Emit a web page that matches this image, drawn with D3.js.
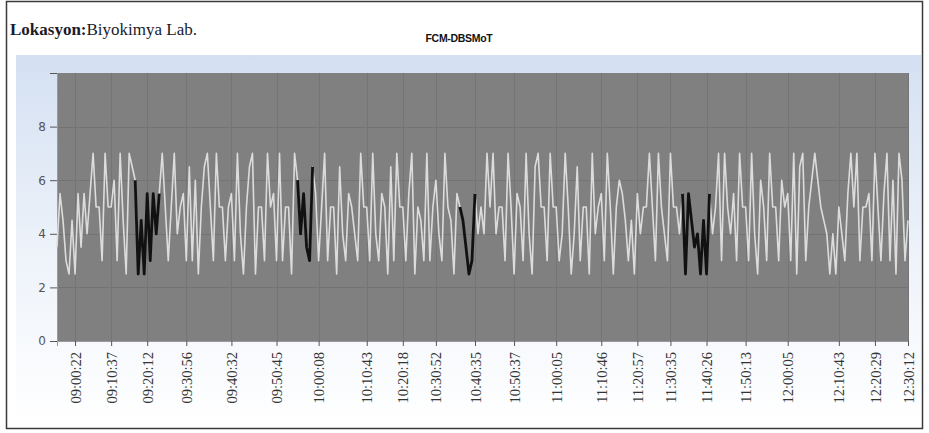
<!DOCTYPE html>
<html>
<head>
<meta charset="utf-8">
<script src="https://cdn.jsdelivr.net/npm/d3@7"></script>
<style>
  html, body { margin: 0; padding: 0; background: #fff; }
  svg { display: block; }
</style>
</head>
<body>
<svg id="chart" width="929" height="433"></svg>
<script>
// ---- data ----
const values = [
  3.5,5.5,4.5,3,2.5,4.5,2.5,5.5,3.5,5.5, 4,5.5,7,5,5,3,7,5,5,6,
  3,7,4.5,2.5,7,6.5,6,2.5,4.5,2.5, 5.5,3,5.5,4,5.5,7,5,3,5,7,
  4,5,5.5,3,6.5,3,6,2.5,5,6.5, 7,5,3,7,5,5,3,5,5.5,3,
  7,4,2.5,5,6.5,7,2.5,5,5,3, 7,5,5.5,3,7,3,5,5,2.5,7,
  6,4,5.5,3.5,3,6.5,5.5,3,5,7, 3,5,5,2.5,6.5,4,3,5.5,5,4,
  3,7,5,5,3,7,4,3,5.5,5, 2.5,6.5,3,7,5,5,3,5.5,7,2.5,
  5,4.5,3,7,3,5,6,4,3,7, 5,4.5,2.5,5.5,5,4.5,3.5,2.5,3,5.5,
  4,5,4,7,5,7,4,5,5,3, 7,5,2.5,5.5,5,3,7,4,2.5,6.5,
  7,5,5,3,7,5,5,3,4,7, 5,2.5,4,6.5,3,5,5,2.5,7,4,
  5,5.5,3,7,5,2.5,5,6,5.5,4.5, 3,4.5,2.5,5.5,4,5,5,7,5,3,
  7,5,4,3,7,5,5,4,5.5,2.5, 5.5,4.5,3.5,4,2.5,4.5,2.5,5.5,4,5,
  7,3,7,5,4,5.5,3,7,5,5, 3,7,4,2.5,6,5,3,7,5,5,
  3,6,5,5.5,3,7,2.5,6.5,7,3, 5,6,7,6,5,4.5,4,2.5,4,2.5,
  5,4,3,5.5,7,5,7,3,5,5, 5.5,3,7,5,3,5.5,7,3,6,2.5,
  7,6,3,4.5
];
// index ranges (inclusive) drawn in black
const anomalyStart = [26, 80, 134, 208];
const anomalyEnd   = [34, 85, 139, 217];
// x-axis labels and the sample index they sit on
const tickIndex  = [6, 18, 30, 43, 58, 73, 87, 103, 115, 126, 139, 152, 166, 181, 193, 204, 216, 229, 243, 260, 272, 283];
const tickLabels = ["09:00:22","09:10:37","09:20:12","09:30:56","09:40:32","09:50:45","10:00:08","10:10:43","10:20:18","10:30:52","10:40:35",
                    "10:50:37","11:00:05","11:10:46","11:20:57","11:30:35","11:40:26","11:50:13","12:00:05","12:10:43","12:20:29","12:30:12"];
const yTicks = [0, 2, 4, 6, 8, 10];
const yLabels = ["0", "2", "4", "6", "8", ""];

// ---- drawing ----
const svg = d3.select("#chart");
const plot = { left: 57, right: 908, top: 73, bottom: 341 };

const defs = svg.append("defs");
const grad = defs.append("linearGradient").attr("id", "bg").attr("x1", 0).attr("y1", 0).attr("x2", 0).attr("y2", 1);
grad.append("stop").attr("offset", "0%").attr("stop-color", "#d4e0f2");
grad.append("stop").attr("offset", "55%").attr("stop-color", "#eef3fa");
grad.append("stop").attr("offset", "100%").attr("stop-color", "#ffffff");

// outer frame
svg.append("rect").attr("x", 6.5).attr("y", 1.5).attr("width", 916).attr("height", 427)
  .attr("fill", "#fff").attr("stroke", "#3a3a3a").attr("stroke-width", 1.5);

// chart area background
svg.append("rect").attr("x", 16).attr("y", 55).attr("width", 905).attr("height", 368)
  .attr("fill", "url(#bg)");

// titles
const t = svg.append("text").attr("x", 10).attr("y", 35)
  .attr("font-family", "'Liberation Serif', 'DejaVu Serif', serif").attr("font-size", 17).attr("fill", "#1a1a2a");
t.append("tspan").attr("font-weight", "bold").text("Lokasyon:");
t.append("tspan").text("Biyokimya Lab.");

svg.append("text").attr("x", 459).attr("y", 42).attr("text-anchor", "middle")
  .attr("font-family", "'Liberation Sans', Arial, sans-serif").attr("font-weight", "bold")
  .attr("font-size", 10.5).attr("fill", "#111").attr("letter-spacing", -0.3).text("FCM-DBSMoT");

const x = d3.scaleLinear().domain([0, values.length - 1]).range([plot.left, plot.right]);
const y = d3.scaleLinear().domain([0, 10]).range([plot.bottom, plot.top]);

// plot background
svg.append("rect").attr("x", plot.left).attr("y", plot.top)
  .attr("width", plot.right - plot.left).attr("height", plot.bottom - plot.top)
  .attr("fill", "#808080");

// grid lines
svg.append("g").selectAll("line").data(yTicks.filter(d => d > 0 && d < 10)).join("line")
  .attr("x1", plot.left).attr("x2", plot.right)
  .attr("y1", d => Math.round(y(d)) + 0.5).attr("y2", d => Math.round(y(d)) + 0.5)
  .attr("stroke", "#737373").attr("stroke-width", 1);
svg.append("g").selectAll("line").data(tickIndex).join("line")
  .attr("x1", d => Math.round(x(d)) + 0.5).attr("x2", d => Math.round(x(d)) + 0.5)
  .attr("y1", plot.top).attr("y2", plot.bottom)
  .attr("stroke", "#757575").attr("stroke-width", 1);

// y axis
const yAxis = d3.axisLeft(y).tickValues(yTicks).tickFormat((d, i) => yLabels[i]).tickSize(7).tickPadding(4);
const gy = svg.append("g").attr("transform", `translate(${plot.left},0)`).call(yAxis);
gy.select(".domain").attr("stroke", "#9a9a9a");
gy.selectAll(".tick line").attr("stroke", "#555");
gy.selectAll(".tick text").attr("font-family", "'DejaVu Sans', sans-serif").attr("font-size", 12).attr("fill", "#555");

// x axis
const xAxis = d3.axisBottom(x).tickValues(tickIndex).tickFormat((d, i) => tickLabels[i]).tickSize(5).tickPadding(3);
const gx = svg.append("g").attr("transform", `translate(0,${plot.bottom})`).call(xAxis);
gx.select(".domain").attr("stroke", "#9a9a9a");
gx.selectAll(".tick line").attr("stroke", "#555");
gx.selectAll(".tick text")
  .attr("font-family", "'Liberation Serif', 'DejaVu Serif', serif").attr("font-size", 14.5).attr("fill", "#333")
  .attr("transform", "rotate(-90)").attr("text-anchor", "end")
  .attr("x", -11).attr("y", 0).attr("dy", "0.35em");

// series line
const line = d3.line().x((d, i) => x(i)).y(d => y(d));
svg.append("path").datum(values).attr("d", line)
  .attr("fill", "none").attr("stroke", "#dcdcdc").attr("stroke-width", 1.6).attr("stroke-linejoin", "round");

// anomaly segments in black
const lineIdx = d3.line().x(i => x(i)).y(i => y(values[i]));
anomalyStart.forEach((s, k) => {
  const idx = d3.range(s, anomalyEnd[k] + 1);
  svg.append("path").datum(idx).attr("d", lineIdx)
    .attr("fill", "none").attr("stroke", "#111").attr("stroke-width", 2.8).attr("stroke-linejoin", "round");
});
</script>
</body>
</html>
